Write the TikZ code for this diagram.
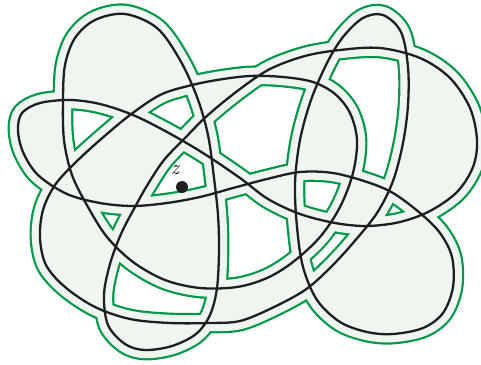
\documentclass[tikz,border=0pt]{standalone}
\definecolor{gline}{RGB}{0,152,72}
\definecolor{gfill}{RGB}{239,246,240}
\begin{document}
\begin{tikzpicture}[x=1pt,y=-1pt]
\useasboundingbox (0,0) rectangle (481,364);
\tikzset{
  outerg/.style={draw=gline,line width=20.8pt,line join=round},
  innerg/.style={draw=gfill,line width=16.4pt,line join=round},
  curvestroke/.style={draw=black!88,line width=2.3pt,line join=round},
}
\def\curvepath{plot[smooth cycle,tension=0.55] coordinates {
(18,130) (22,113) (40,103) (70,100) (100,104) (133,115) (167,132) (203,153)
(240,178) (268,199) (300,214) (335,223) (367,226) (400,222) (430,211) (457,192)
(473,167) (477,140) (470,108) (450,78) (420,58) (380,48) (340,50) (305,56)
(270,69) (240,89) (208,115) (185,138) (164,160) (148,184) (135,207) (121,234)
(110,264) (104,295) (108,325) (125,344) (145,350) (172,346) (196,334) (210,315)
(217,288) (219,250) (218,215) (214,178) (208,135) (197,97) (180,60) (157,28)
(125,14) (95,20) (75,38) (65,65) (63,100) (64,140) (72,175) (88,207)
(107,237) (133,262) (165,280) (200,288) (237,287) (267,278) (293,262) (320,237)
(340,207) (353,173) (357,140) (350,113) (335,94) (313,82) (283,77) (250,76)
(217,80) (188,86) (160,95) (130,115) (100,140) (75,163) (55,185) (43,210)
(40,238) (46,265) (65,287) (95,307) (130,319) (170,323) (210,323) (240,321)
(272,308) (305,290) (330,268) (353,243) (377,213) (393,181) (403,143) (408,105)
(408,67) (401,32) (383,15) (363,18) (343,37) (327,63) (311,100) (300,140)
(295,183) (297,227) (303,267) (317,300) (340,322) (367,332) (393,334) (423,328)
(443,313) (453,287) (452,257) (440,233) (420,213) (393,193) (367,182) (333,173)
(300,172) (267,179) (233,188) (200,197) (167,203) (133,206) (100,203) (67,194)
(38,175) (23,152)}}
\path[outerg] \curvepath;
\path[innerg] \curvepath;
\path[fill=gfill,even odd rule] \curvepath;
\path[curvestroke] \curvepath;
\node[circle,fill=black!88,inner sep=0pt,minimum size=12pt] (z) at (182,187) {};
\node[font=\huge\itshape,text=black,inner sep=0pt] (zl) at (175,170) {z};
\end{tikzpicture}
\end{document}
